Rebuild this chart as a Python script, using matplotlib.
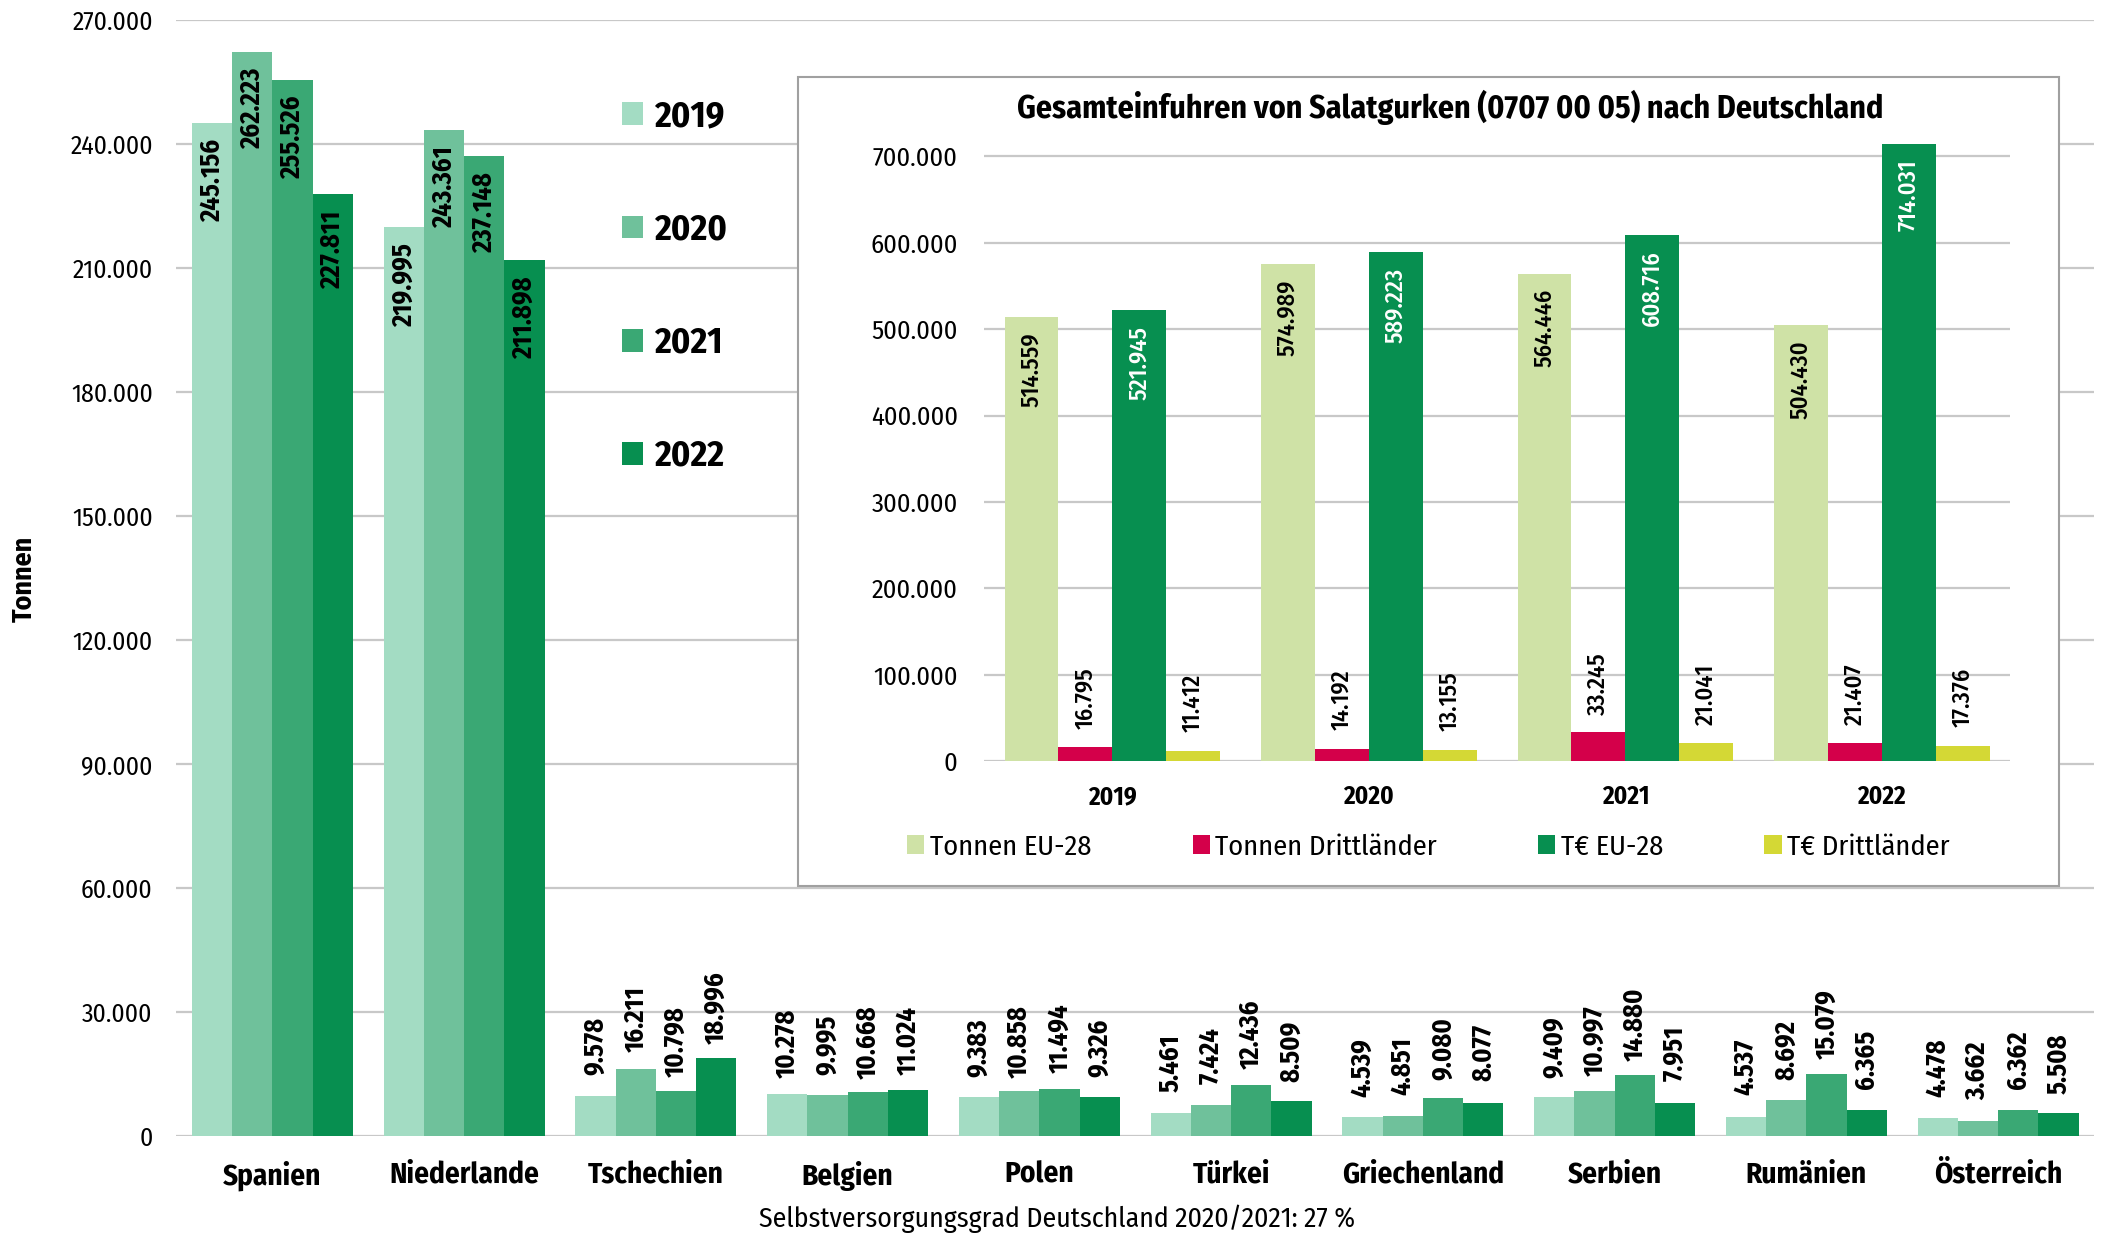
import matplotlib
matplotlib.use("Agg")
import matplotlib.pyplot as plt
from matplotlib import font_manager as fm
from matplotlib.patches import Rectangle, Patch
from matplotlib.ticker import FuncFormatter
import numpy as np

# narrow humanist font, first one that is installed
installed = {f.name for f in fm.fontManager.ttflist}
prefs = ["Fira Sans Condensed", "PT Sans Narrow", "Asap Condensed",
         "Fira Sans Extra Condensed", "Liberation Sans Narrow"]
FONT = next((n for n in prefs if n in installed), "DejaVu Sans")
plt.rcParams["font.family"] = [FONT, "DejaVu Sans"]

# ---- Data: main chart (Tonnen) ----
countries = ["Spanien", "Niederlande", "Tschechien", "Belgien", "Polen",
             "Türkei", "Griechenland", "Serbien", "Rumänien", "Österreich"]
years = ["2019", "2020", "2021", "2022"]
t2019 = [245156, 219995, 9578, 10278, 9383, 5461, 4539, 9409, 4537, 4478]
t2020 = [262223, 243361, 16211, 9995, 10858, 7424, 4851, 10997, 8692, 3662]
t2021 = [255526, 237148, 10798, 10668, 11494, 12436, 9080, 14880, 15079, 6362]
t2022 = [227811, 211898, 18996, 11024, 9326, 8509, 8077, 7951, 6365, 5508]
main_colors = ["#a3dcc3", "#6fc19b", "#3aa874", "#078f50"]

# ---- Data: inset chart ----
inset_years = ["2019", "2020", "2021", "2022"]
inset_names = ["Tonnen EU-28", "Tonnen Drittländer", "T€ EU-28", "T€ Drittländer"]
tonnen_eu = [514559, 574989, 564446, 504430]
tonnen_dritt = [16795, 14192, 33245, 21407]
teuro_eu = [521945, 589223, 608716, 714031]
teuro_dritt = [11412, 13155, 21041, 17376]
inset_colors = ["#cfe2a6", "#d4004a", "#078f50", "#d4d835"]
inset_label_colors = ["black", "black", "white", "black"]

GRID = "#c8c8c8"


def de_fmt(v, pos=None):
    return f"{int(v):,}".replace(",", ".")


fig = plt.figure(figsize=(21.05, 12.34), dpi=100)

# ---- main axes ----
ax = fig.add_axes([0.0838, 0.0794, 0.911, 0.9044])
x = np.arange(len(countries))
w = 0.21
series = [t2019, t2020, t2021, t2022]
for i, vals in enumerate(series):
    xs = x + (i - 1.5) * w
    ax.bar(xs, vals, width=w, color=main_colors[i], label=years[i], zorder=2)
    for xi, v in zip(xs, vals):
        if v > 100000:
            ax.annotate(de_fmt(v), (xi, v), xytext=(0, -11.5), textcoords="offset points",
                        rotation=90, ha="center", va="top", fontsize=19,
                        fontweight="bold", zorder=3)
        else:
            # labels centred a fixed distance above the bar
            ax.annotate(de_fmt(v), (xi, v), xytext=(0, 36), textcoords="offset points",
                        rotation=90, ha="center", va="center", fontsize=19,
                        fontweight="bold", zorder=3)

ax.set_xlim(-0.5, len(countries) - 0.5)
ax.set_ylim(0, 270000)
ax.set_yticks(np.arange(0, 270001, 30000))
ax.yaxis.set_major_formatter(FuncFormatter(de_fmt))
ax.set_xticks(x)
ax.set_xticklabels(countries, fontsize=21, fontweight="bold")
ax.tick_params(axis="y", labelsize=18.5, length=0, pad=17)
ax.tick_params(axis="x", length=0, pad=18)
ax.grid(axis="y", color=GRID, linewidth=1.6)
ax.set_axisbelow(True)
for s in ax.spines.values():
    s.set_visible(False)

handles = [Patch(facecolor=c, label=y) for c, y in zip(main_colors, years)]
ax.legend(handles=handles, loc="upper left", bbox_to_anchor=(0.2953, 0.9196),
          bbox_transform=fig.transFigure, frameon=False,
          prop={"weight": "bold", "size": 26}, labelspacing=2.15,
          handlelength=0.6, handleheight=0.6, handletextpad=0.3,
          borderpad=0, borderaxespad=0)

fig.text(0.0114, 0.531, "Tonnen", rotation=90, ha="center", va="center",
         fontsize=20, fontweight="bold")
fig.text(0.502, 0.0122, "Selbstversorgungsgrad Deutschland 2020/2021: 27 %",
         ha="center", va="center", fontsize=20)

# ---- inset box ----
box = Rectangle((797.5 / 2105, 1 - 886 / 1234), (2059 - 797.5) / 2105, (886 - 76.5) / 1234,
                transform=fig.transFigure, facecolor="white", edgecolor="#a0a0a0",
                linewidth=1.5, zorder=5)
fig.add_artist(box)

ax2 = fig.add_axes([0.4675, 0.3833, 0.4874, 0.5081], zorder=6)
ax2.patch.set_alpha(0)
xi2 = np.arange(len(inset_years))
inset_series = [tonnen_eu, tonnen_dritt, teuro_eu, teuro_dritt]
for i, vals in enumerate(inset_series):
    xs = xi2 + (i - 1.5) * w
    ax2.bar(xs, vals, width=w, color=inset_colors[i], label=inset_names[i], zorder=2)
    for xv, v in zip(xs, vals):
        if v > 100000:
            ax2.annotate(de_fmt(v), (xv, v), xytext=(0, -11), textcoords="offset points",
                         rotation=90, ha="center", va="top", fontsize=17.5,
                         fontweight=500, color=inset_label_colors[i], zorder=3)
        else:
            ax2.annotate(de_fmt(v), (xv, v), xytext=(0, 35), textcoords="offset points",
                         rotation=90, ha="center", va="center", fontsize=17.5,
                         fontweight=500, color="black", zorder=3)

ax2.set_xlim(-0.5, len(inset_years) - 0.5)
ax2.set_ylim(0, 726000)
ax2.set_yticks(np.arange(0, 700001, 100000))
ax2.yaxis.set_major_formatter(FuncFormatter(de_fmt))
ax2.set_xticks(xi2)
ax2.set_xticklabels(inset_years, fontsize=18, fontweight="bold")
ax2.tick_params(axis="y", labelsize=19, length=0, pad=19)
ax2.tick_params(axis="x", length=0, pad=17)
ax2.grid(axis="y", color=GRID, linewidth=1.6)
ax2.set_axisbelow(True)
for s in ax2.spines.values():
    s.set_visible(False)

fig.text(0.689, 0.913, "Gesamteinfuhren von Salatgurken (0707 00 05) nach Deutschland",
         ha="center", va="center", fontsize=23, fontweight="bold", zorder=7)

h2 = [Patch(facecolor=c, label=n) for c, n in zip(inset_colors, inset_names)]
ax2.legend(handles=h2, loc="center left", bbox_to_anchor=(0.431, 0.3136),
           bbox_transform=fig.transFigure, ncol=4, frameon=False, fontsize=20.5,
           handlelength=0.6, handleheight=0.64, handletextpad=0.2,
           columnspacing=3.55, borderpad=0, borderaxespad=0)

fig.savefig("out.png", dpi=100)
